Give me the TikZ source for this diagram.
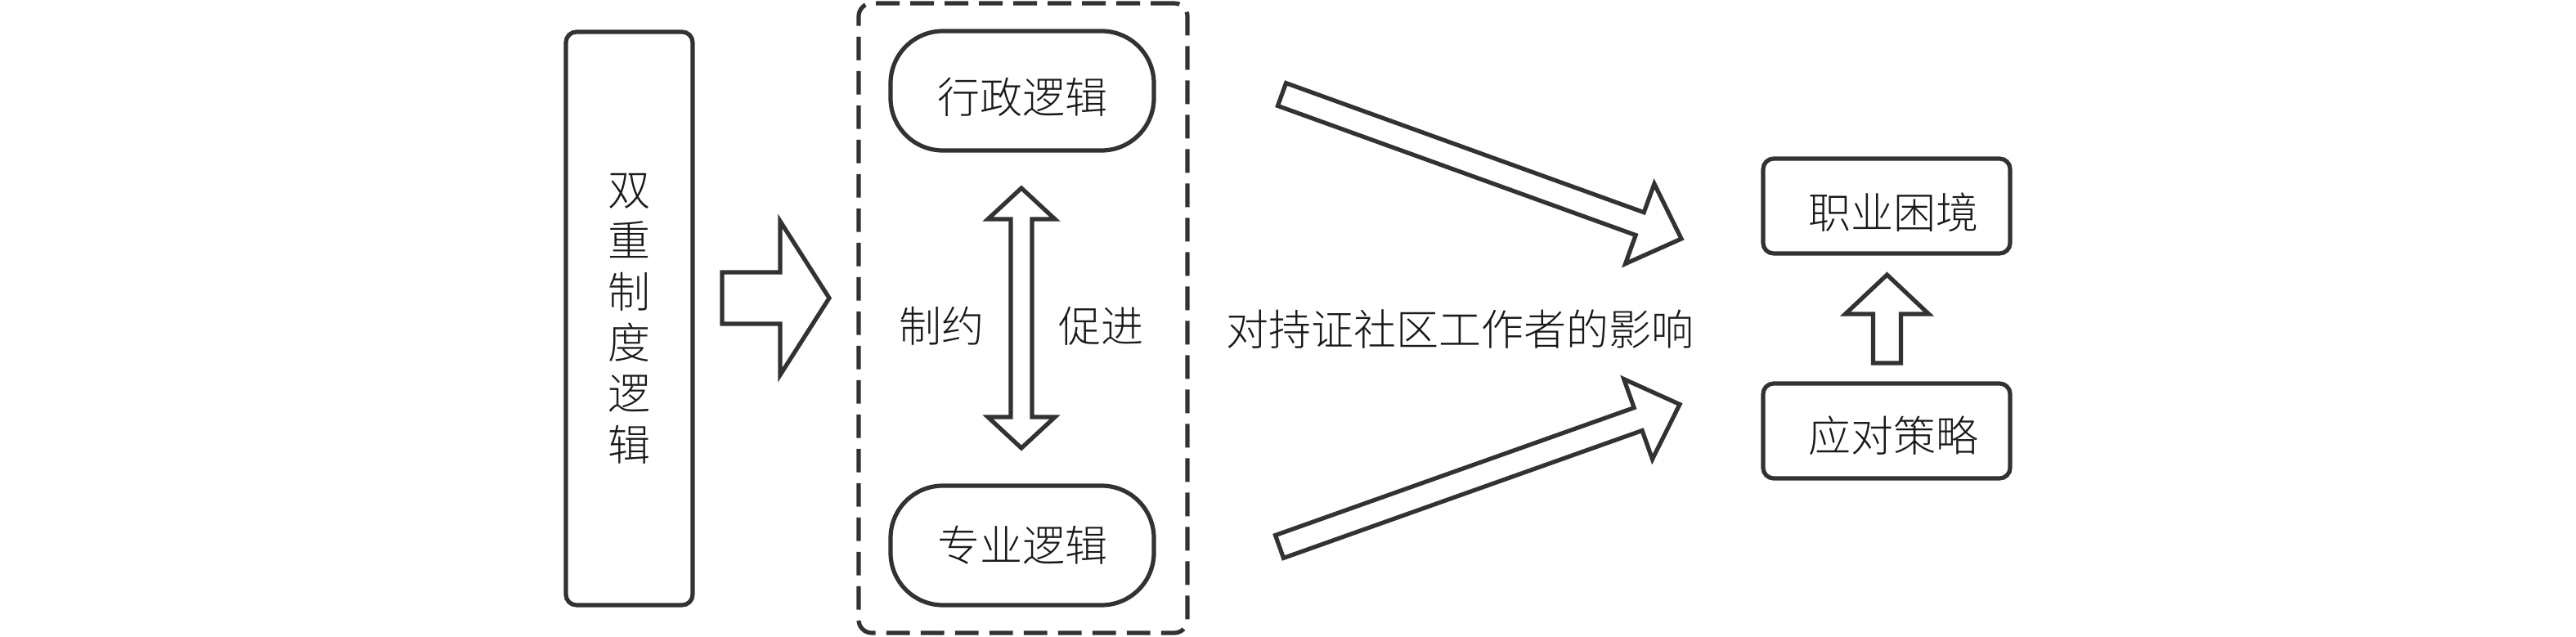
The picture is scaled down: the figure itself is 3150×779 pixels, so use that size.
\documentclass[tikz,border=0pt]{standalone}
\usepackage{fontspec}
\IfFontExistsTF{Noto Sans CJK SC Light}
  {\newfontfamily\cjk{Noto Sans CJK SC Light}}
  {\newfontfamily\cjk{Noto Sans CJK SC}}
\usetikzlibrary{calc}
\definecolor{linec}{RGB}{50,50,50}
\definecolor{textc}{RGB}{25,25,25}

% block arrow from tail (#1) to tip (#2): shaft half width #3, head half width #4, head length #5
\newcommand{\blockarrow}[5]{%
  \coordinate (#2-b) at ($(#2)!#5!(#1)$);
  \draw[blk] ($(#1)!#3!90:(#2)$) -- ($(#2-b)!#3!90:(#2)$) -- ($(#2-b)!#4!90:(#2)$) -- (#2)
    -- ($(#2-b)!#4!-90:(#2)$) -- ($(#2-b)!#3!-90:(#2)$) -- ($(#1)!#3!-90:(#2)$) -- cycle;}
% double-headed block arrow between tips (#1) and (#2)
\newcommand{\dblarrow}[5]{%
  \coordinate (#1-b) at ($(#1)!#5!(#2)$);
  \coordinate (#2-b) at ($(#2)!#5!(#1)$);
  \draw[blk] (#1) -- ($(#1-b)!#4!90:(#2)$) -- ($(#1-b)!#3!90:(#2)$) -- ($(#2-b)!#3!-90:(#1)$)
    -- ($(#2-b)!#4!-90:(#1)$) -- (#2) -- ($(#2-b)!#4!90:(#1)$) -- ($(#2-b)!#3!90:(#1)$)
    -- ($(#1-b)!#3!-90:(#2)$) -- ($(#1-b)!#4!-90:(#2)$) -- cycle;}

\begin{document}
\begin{tikzpicture}[x=0.25pt,y=-0.25pt,
  every node/.style={font=\cjk\fontsize{13}{15.6}\selectfont, text=textc},
  box/.style={draw=linec, line width=1.3pt, rounded corners=3.2pt, inner sep=0pt},
  pill/.style={draw=linec, line width=1.3pt, rounded corners=16pt, minimum width=80.5pt, minimum height=36.5pt, inner sep=0pt},
  group/.style={draw=linec, line width=1.3pt, dash pattern=on 7.2pt off 3.3pt, rounded corners=4pt, minimum width=100.5pt, minimum height=192.5pt, inner sep=0pt},
  blk/.style={draw=linec, line width=1.3pt, fill=white, line join=miter},
  lbl/.style={inner sep=0pt}]
\useasboundingbox (0,0) rectangle (3150,779);

% nodes
\node[box, minimum width=38.75pt, minimum height=175.25pt, align=center] (dual) at (769.5,389.5) {双\\重\\制\\度\\逻\\辑};
\node[group] (grp) at (1251,389) {};
\node[pill] (admin) at (1250,111) {\raisebox{-2pt}[\height][\depth]{行政逻辑}};
\node[pill] (prof) at (1250,667) {专业逻辑};
\node[lbl] (c1) at (1151,399) {制约};
\node[lbl] (c2) at (1346,399) {促进};
\node[lbl] (eff) at (1785,403) {对持证社区工作者的影响};
\node[box, minimum width=75.5pt, minimum height=29pt] (dilemma) at (2307,252) {\hspace*{4pt}\raisebox{-2pt}[\height][\depth]{职业困境}};
\node[box, minimum width=75.5pt, minimum height=29pt] (strat) at (2307,527) {\hspace*{4pt}\raisebox{-1.5pt}[\height][\depth]{应对策略}};

% block arrows
\coordinate (ra-t) at (883,364.5);   \coordinate (ra-h) at (1014,364.5);
\blockarrow{ra-t}{ra-h}{7.875pt}{23.5pt}{15pt}
\coordinate (da-t) at (1567.5,115.5); \coordinate (da-h) at (2056,292);
\blockarrow{da-t}{da-h}{3.7pt}{13pt}{13.5pt}
\coordinate (ua-t) at (1564.5,668.5); \coordinate (ua-h) at (2054,494.5);
\blockarrow{ua-t}{ua-h}{3.7pt}{13pt}{13.5pt}
\coordinate (va-t) at (2307.5,444);  \coordinate (va-h) at (2307.5,336);
\blockarrow{va-t}{va-h}{4.25pt}{12.75pt}{12pt}
\coordinate (dd-a) at (1249,230);    \coordinate (dd-b) at (1249,548);
\dblarrow{dd-a}{dd-b}{3.25pt}{10.25pt}{9.5pt}
\end{tikzpicture}
\end{document}
